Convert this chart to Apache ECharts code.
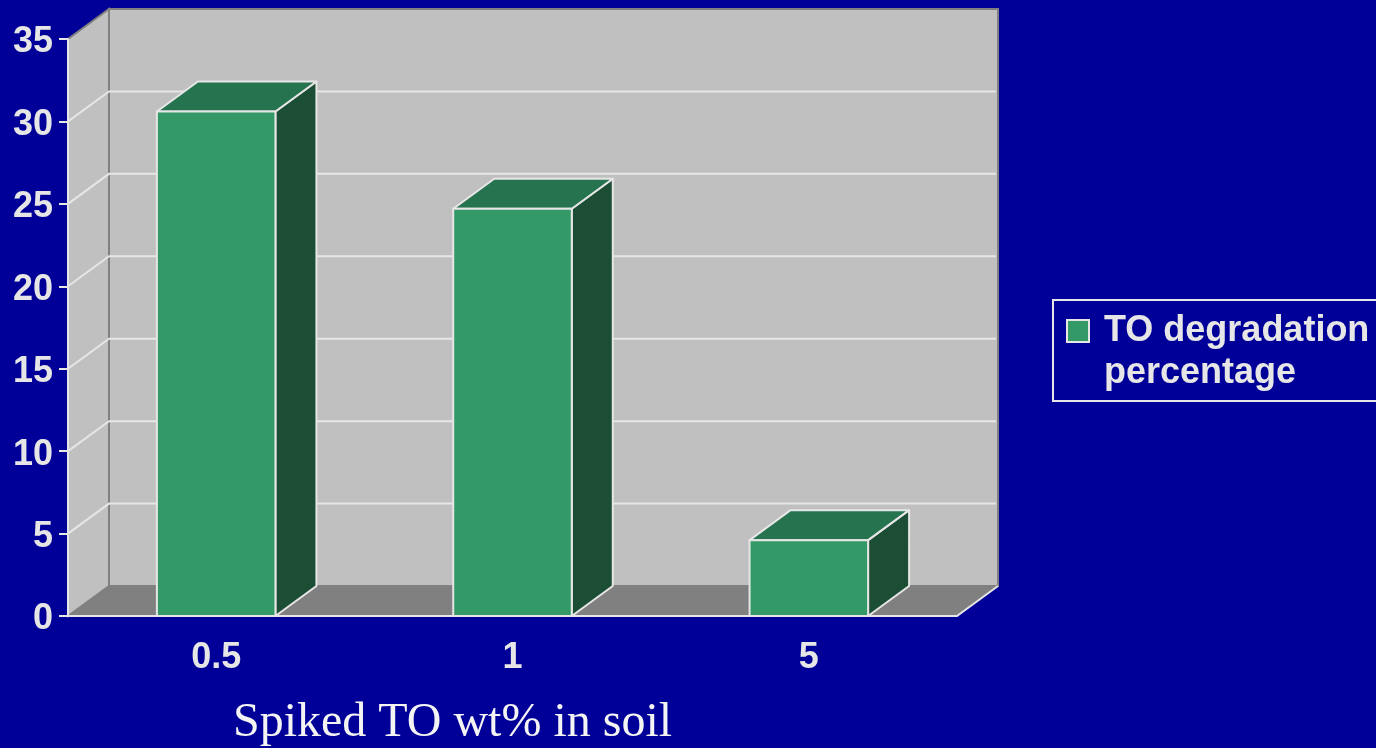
<!DOCTYPE html>
<html>
<head>
<meta charset="utf-8">
<script src="https://cdn.jsdelivr.net/npm/echarts@6/dist/echarts.min.js"></script>
<style>
  html, body { margin: 0; padding: 0; background: #000099; }
  #chart { width: 1376px; height: 748px; }
</style>
</head>
<body>
<div id="chart"></div>
<script>
// Spiked TO concentration (wt% in soil) and resulting degradation percentage
const categories = ['0.5', '1', '5'];
const degradation = [30.6, 24.7, 4.6];
const yTicks = [0, 5, 10, 15, 20, 25, 30, 35];
const seriesName = 'TO degradation percentage';
const legendLines = ['TO degradation', 'percentage'];
const axisTitle = 'Spiked TO wt% in soil';

// 3D look: depth offset of the back plane and palette
const DX = 41, DY = -30;
const LIGHT = '#e6e6e6';
const WALL = '#c0c0c0', WALL_EDGE = '#808080', FLOOR = '#808080';
const FRONT = '#339966', TOP = '#267350', SIDE = '#1c4d35';
const SANS = '"Liberation Sans", Arial, sans-serif';

const chart = echarts.init(document.getElementById('chart'));

// Back wall, side wall, floor and the gridlines drawn on them
function renderWalls(params, api) {
  const cs = params.coordSys;
  const xl = cs.x, xr = cs.x + cs.width;
  const yb = api.coord([0, yTicks[0]])[1];
  const yt = api.coord([0, yTicks[yTicks.length - 1]])[1];
  const children = [
    { type: 'polygon', shape: { points: [[xl + DX, yt + DY], [xr + DX, yt + DY], [xr + DX, yb + DY], [xl + DX, yb + DY]] },
      style: { fill: WALL, stroke: WALL_EDGE, lineWidth: 2 } },
    { type: 'polygon', shape: { points: [[xl, yt], [xl + DX, yt + DY], [xl + DX, yb + DY], [xl, yb]] },
      style: { fill: WALL, stroke: WALL_EDGE, lineWidth: 2 } },
    { type: 'polygon', shape: { points: [[xl, yb], [xl + DX, yb + DY], [xr + DX, yb + DY], [xr, yb]] },
      style: { fill: FLOOR, stroke: null } },
    { type: 'line', shape: { x1: xr, y1: yb, x2: xr + DX, y2: yb + DY },
      style: { stroke: LIGHT, lineWidth: 2 } }
  ];
  yTicks.slice(1, -1).forEach(function (v) {
    const y = api.coord([0, v])[1];
    children.push({ type: 'polyline', shape: { points: [[xl, y], [xl + DX, y + DY], [xr + DX - 2, y + DY]] },
      style: { stroke: LIGHT, lineWidth: 2, fill: null } });
  });
  return { type: 'group', children: children };
}

// Each column: front face, top face, right side face
function renderBar(params, api) {
  const idx = api.value(0);
  const top = api.coord([idx, api.value(1)]);
  const base = api.coord([idx, 0]);
  const w = api.size([1, 0])[0] * 0.4;
  const x0 = top[0] - w / 2, x1 = top[0] + w / 2;
  const yT = top[1], yB = base[1];
  const edge = { stroke: LIGHT, lineWidth: 2, lineJoin: 'round' };
  return {
    type: 'group',
    children: [
      { type: 'polygon', shape: { points: [[x1, yT], [x1 + DX, yT + DY], [x1 + DX, yB + DY], [x1, yB]] },
        style: Object.assign({ fill: SIDE }, edge) },
      { type: 'polygon', shape: { points: [[x0, yT], [x0 + DX, yT + DY], [x1 + DX, yT + DY], [x1, yT]] },
        style: Object.assign({ fill: TOP }, edge) },
      { type: 'rect', shape: { x: x0, y: yT, width: w, height: yB - yT },
        style: Object.assign({ fill: FRONT }, edge) }
    ]
  };
}

const option = {
  backgroundColor: '#000099',
  animation: false,
  grid: { left: 68, top: 39, width: 889, height: 577, outerBoundsMode: 'none', containLabel: false },
  xAxis: {
    type: 'category',
    data: categories,
    z: 5,
    name: axisTitle,
    nameLocation: 'middle',
    nameGap: 79,
    nameTextStyle: { color: '#f4f4f4', fontSize: 48, fontFamily: '"Liberation Serif", "Times New Roman", serif',
      lineHeight: 56, padding: [0, 120, 0, 0] },
    axisLine: { lineStyle: { color: LIGHT, width: 2 } },
    axisTick: { length: 9, lineStyle: { color: LIGHT, width: 2 } },
    axisLabel: { margin: 24, color: LIGHT, fontSize: 36, fontWeight: 'bold', fontFamily: SANS },
    splitLine: { show: false }
  },
  yAxis: {
    type: 'value',
    min: yTicks[0],
    max: yTicks[yTicks.length - 1],
    interval: yTicks[1] - yTicks[0],
    z: 5,
    axisLine: { show: true, lineStyle: { color: LIGHT, width: 2 } },
    axisTick: { show: true, length: 9, lineStyle: { color: LIGHT, width: 2 } },
    // a short top-aligned line box nudges each number a few pixels below its tick
    axisLabel: { margin: 15, color: LIGHT, fontSize: 36, fontWeight: 'bold', fontFamily: SANS,
      verticalAlign: 'top', lineHeight: 7 },
    splitLine: { show: false }
  },
  legend: {
    left: 1066,
    top: 268,
    padding: 0,
    orient: 'vertical',
    selectedMode: false,
    icon: 'rect',
    itemWidth: 22,
    itemHeight: 22,
    itemStyle: { color: FRONT, borderColor: LIGHT, borderWidth: 2 },
    data: [seriesName],
    // a blank leading line keeps the swatch level with the first text line
    formatter: function () { return '\n' + legendLines.join('\n'); },
    textStyle: { color: LIGHT, fontSize: 36, fontWeight: 'bold', fontFamily: SANS, lineHeight: 42, padding: [0, 0, 0, 10] }
  },
  graphic: [
    { type: 'rect', shape: { x: 1053, y: 300, width: 400, height: 101 },
      style: { fill: 'none', stroke: LIGHT, lineWidth: 2 }, silent: true }
  ],
  series: [
    {
      type: 'custom',
      name: 'walls',
      z: 1,
      silent: true,
      renderItem: renderWalls,
      data: [[0, 0]],
      encode: { x: 0, y: 1 }
    },
    {
      type: 'custom',
      name: seriesName,
      z: 3,
      itemStyle: { color: FRONT },
      renderItem: renderBar,
      data: categories.map(function (c, i) { return [i, degradation[i]]; }),
      encode: { x: 0, y: 1 }
    }
  ]
};

chart.setOption(option);
</script>
</body>
</html>
